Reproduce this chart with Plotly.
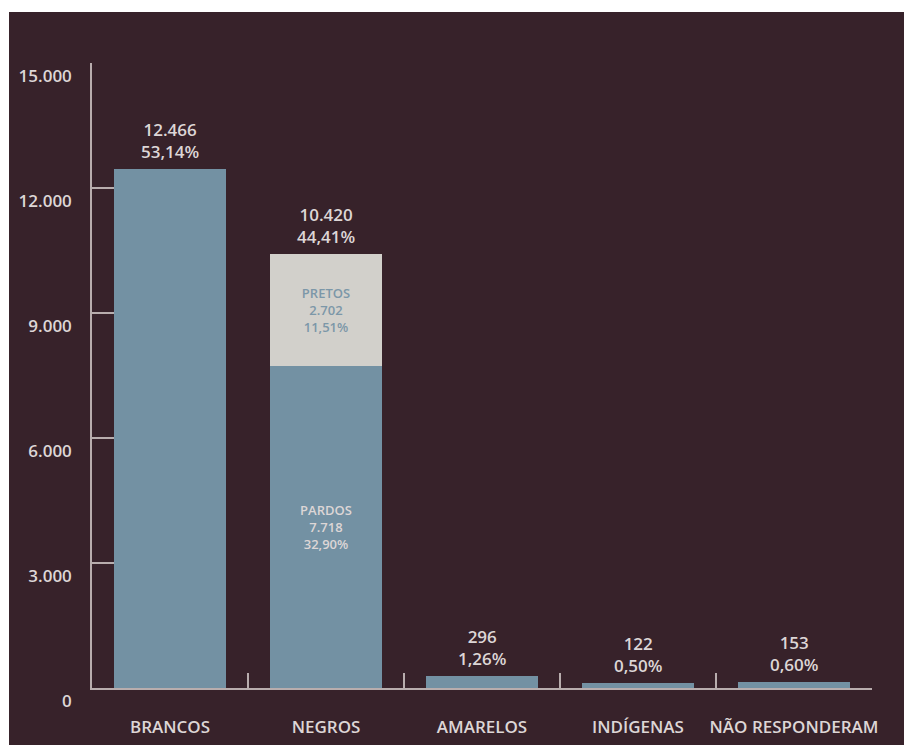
import plotly.graph_objects as go

categories = ["BRANCOS", "NEGROS", "AMARELOS", "INDÍGENAS", "NÃO RESPONDERAM"]
base_values = [12466, 7718, 296, 122, 153]          # main bars (Pardos for NEGROS)
pretos_values = [0, 2702, 0, 0, 0]                  # stacked part on NEGROS
totals = [12466, 10420, 296, 122, 153]
total_labels = ["12.466<br>53,14%", "10.420<br>44,41%", "296<br>1,26%", "122<br>0,50%", "153<br>0,60%"]
pardos_label = "PARDOS<br>7.718<br>32,90%"
pretos_label = "PRETOS<br>2.702<br>11,51%"
y_tickvals = [0, 3000, 6000, 9000, 12000, 15000]
y_ticktext = ["0", "3.000", "6.000", "9.000", "12.000", "15.000"]

BG = "#37222a"
BAR = "#7391a3"
PRETOS = "#d2d0cb"
TXT = "#ddd6d6"
AX = "#b8adad"
FONT = "Open Sans"
W = 600

fig = go.Figure()
fig.add_trace(go.Bar(
    x=categories, y=base_values, marker=dict(color=BAR, line=dict(width=0)),
    width=0.72,
    text=["", pardos_label, "", "", ""], textposition="inside", insidetextanchor="middle",
    textfont=dict(family=FONT, size=13, color=TXT, weight=W), hoverinfo="skip",
))
fig.add_trace(go.Bar(
    x=categories, y=pretos_values, marker=dict(color=PRETOS, line=dict(width=0)),
    width=0.72,
    text=["", pretos_label, "", "", ""], textposition="inside", insidetextanchor="middle",
    textfont=dict(family=FONT, size=13, color="#7c97a8", weight=W), hoverinfo="skip",
))

for c, t, lab in zip(categories, totals, total_labels):
    fig.add_annotation(x=c, y=t, text=lab, showarrow=False, yanchor="bottom",
                       yshift=4, font=dict(family=FONT, size=17, color=TXT, weight=W))

# dark background panel (white strip at left/top as in reference)
fig.add_shape(type="rect", xref="paper", yref="paper", x0=-0.1064, x1=1.05,
              y0=-0.1, y1=1.0816, fillcolor=BG, line=dict(width=0), layer="below")

fig.update_layout(
    width=904, height=745,
    margin=dict(l=92, r=32, t=63, b=57, autoexpand=False),
    paper_bgcolor="white", plot_bgcolor="rgba(0,0,0,0)",
    barmode="stack", showlegend=False,
    font=dict(family=FONT, color=TXT),
    uniformtext=dict(minsize=8, mode="show"),
)
fig.update_xaxes(
    type="category", range=[-0.5, 4.5], showgrid=False, zeroline=False,
    showline=True, linecolor=AX, linewidth=1.5, automargin=False, tickangle=0,
    tickson="boundaries", ticks="inside", ticklen=15, tickcolor=AX, tickwidth=1.5,
    ticklabelstandoff=23, tickfont=dict(family=FONT, size=17, color=TXT, weight=W),
)
fig.update_yaxes(
    range=[0, 15000], showgrid=False, zeroline=False, automargin=False,
    showline=True, linecolor=AX, linewidth=1.5,
    tickvals=y_tickvals, ticktext=y_ticktext,
    ticks="inside", ticklen=22, tickcolor=AX, tickwidth=1.5,
    ticklabelposition="outside bottom", ticklabelstandoff=15,
    tickfont=dict(family=FONT, size=17, color=TXT, weight=W),
)

fig.write_html("out.html")
